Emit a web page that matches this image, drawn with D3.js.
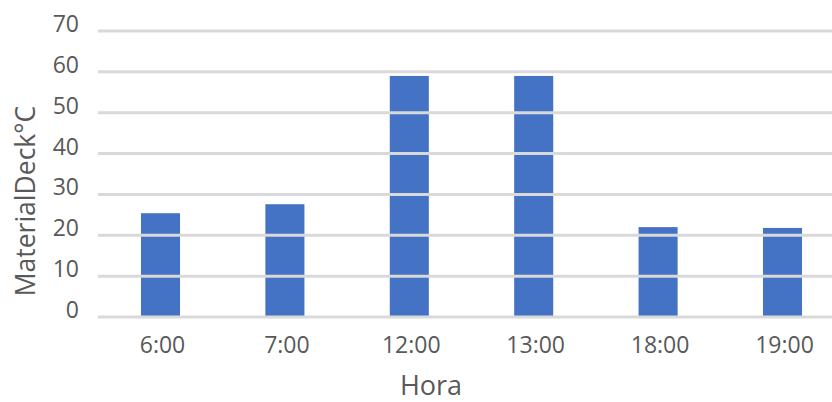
<!DOCTYPE html>
<html><head><meta charset="utf-8">
<script src="https://cdn.jsdelivr.net/npm/d3@7"></script>
<style>body{margin:0;background:#fff;} svg{display:block;font-family:"Open Sans",sans-serif;}</style>
</head><body><svg id="c" width="832" height="402"></svg>
<script>
const categories = ["6:00","7:00","12:00","13:00","18:00","19:00"];
const values = [25.4, 27.6, 59.0, 59.0, 22.0, 21.8];
const yTicks = [0,10,20,30,40,50,60,70];
const xTitle = "Hora";
const yTitle = "MaterialDeck°C";

const svg = d3.select("#c");
const x = d3.scaleBand().domain(categories).range([98.3, 844.7]).paddingInner(0.686).paddingOuter(0.343);
const y = d3.scaleLinear().domain([0,70]).range([317,31]);

svg.append("g").selectAll("rect").data(values).join("rect")
  .attr("x",(d,i)=>x(categories[i])).attr("width",x.bandwidth())
  .attr("y",d=>y(d)).attr("height",d=>y(0)-y(d)).attr("fill","#4472c4");

svg.append("g").selectAll("line").data(yTicks).join("line")
  .attr("x1",98).attr("x2",832).attr("y1",d=>y(d)).attr("y2",d=>y(d))
  .attr("stroke","#d9d9d9").attr("stroke-width",3);

svg.append("g").selectAll("text").data(yTicks).join("text")
  .attr("x",79).attr("y",d=>y(d)+1).attr("text-anchor","end")
  .attr("font-size",23).attr("fill","#595959").text(d=>d);

svg.append("g").selectAll("text").data(categories).join("text")
  .attr("x",d=>x(d)+x.bandwidth()/2+2).attr("y",353).attr("text-anchor","middle")
  .attr("font-size",23).attr("fill","#595959").text(d=>d);

svg.append("text").attr("x",431).attr("y",395).attr("text-anchor","middle")
  .attr("font-size",27).attr("fill","#595959").text(xTitle);

svg.append("text").attr("transform","translate(35,201) rotate(-90)").attr("text-anchor","middle")
  .attr("font-size",26.5).attr("fill","#595959").text(yTitle);
</script></body></html>
